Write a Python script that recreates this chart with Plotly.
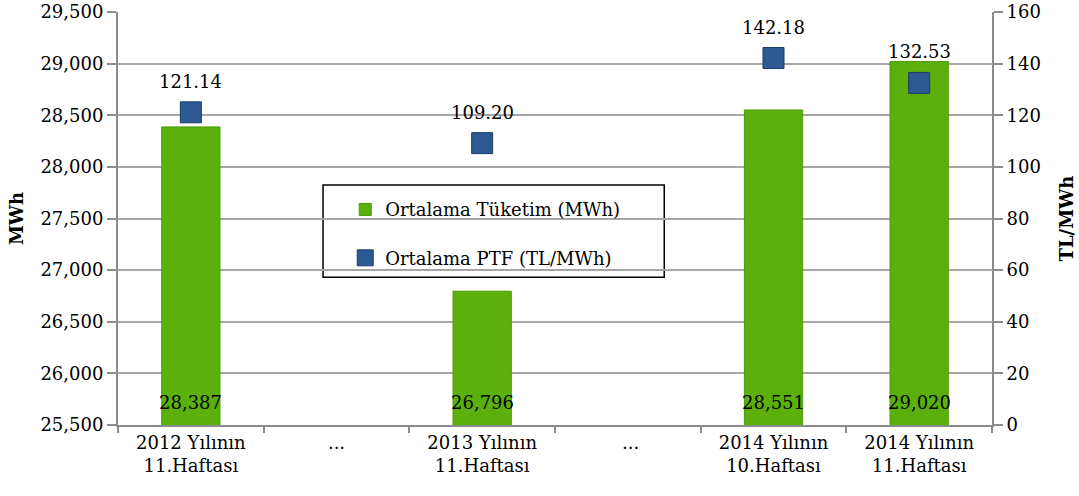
import plotly.graph_objects as go

categories = ["2012 Yılının<br>11.Haftası", "...", "2013 Yılının<br>11.Haftası", " ...",
              "2014 Yılının<br>10.Haftası", "2014 Yılının<br>11.Haftası"]
consumption = [28387, None, 26796, None, 28551, 29020]
ptf = [121.14, None, 109.20, None, 142.18, 132.53]

left_ticks = list(range(25500, 29501, 500))
right_ticks = list(range(0, 161, 20))

FONT = "DejaVu Serif"
GREEN = "#5cb00b"
BLUE = "#2d5a93"

fig = go.Figure()
fig.add_trace(go.Bar(
    x=categories, y=consumption, name="Ortalama Tüketim (MWh)",
    marker=dict(color=GREEN, line=dict(color="#4c9a08", width=1)),
    width=0.4, legendgroup="a",
))
fig.add_trace(go.Scatter(
    x=categories, y=ptf, name="Ortalama PTF (TL/MWh)", yaxis="y2",
    mode="markers",
    marker=dict(symbol="square", size=21, color=BLUE, line=dict(color="#1d3c66", width=1)),
    legendgroup="b",
))

annotations = []
for c, v in zip(categories, consumption):
    if v is not None:
        annotations.append(dict(x=c, y=left_ticks[0], xref="x", yref="y", text=f"{v:,}",
                                showarrow=False, yshift=23, yanchor="middle",
                                font=dict(family=FONT, size=18, color="black")))
for c, v in zip(categories, ptf):
    if v is not None:
        annotations.append(dict(x=c, y=v, xref="x", yref="y2", text=f"{v:.2f}",
                                showarrow=False, yshift=31, yanchor="middle",
                                font=dict(family=FONT, size=18, color="black")))

fig.update_layout(
    width=1079, height=496,
    margin=dict(l=118, r=87, t=12, b=71, autoexpand=False),
    paper_bgcolor="white", plot_bgcolor="white",
    font=dict(family=FONT, size=18, color="black"),
    annotations=annotations,
    xaxis=dict(
        type="category", automargin=False, showline=True, linecolor="#8c8c8c", linewidth=2,
        ticks="outside", tickson="boundaries", ticklen=6, tickcolor="#8c8c8c", tickwidth=2,
        showgrid=False, tickfont=dict(family=FONT, size=18),
    ),
    yaxis=dict(
        title=dict(text="<b>MWh</b>", font=dict(family=FONT, size=18), standoff=12),
        automargin=False, ticklabeloverflow="allow",
        range=[left_ticks[0], left_ticks[-1]], tickvals=left_ticks, tickformat=",d",
        showline=True, linecolor="#8c8c8c", linewidth=2,
        ticks="outside", ticklen=9, tickcolor="#8c8c8c", tickwidth=2,
        showgrid=True, gridcolor="#a6a6a6", gridwidth=1.5, zeroline=False,
        tickfont=dict(family=FONT, size=18),
    ),
    yaxis2=dict(
        title=dict(text="<b>TL/MWh</b>", font=dict(family=FONT, size=18), standoff=20),
        automargin=False, ticklabeloverflow="allow",
        overlaying="y", side="right", range=[right_ticks[0], right_ticks[-1]], tickvals=right_ticks,
        showline=True, linecolor="#8c8c8c", linewidth=2,
        ticks="outside", ticklen=9, tickcolor="#8c8c8c", tickwidth=2,
        showgrid=False, zeroline=False, tickfont=dict(family=FONT, size=18),
    ),
    legend=dict(
        x=0.26, y=0.566, xanchor="left", yanchor="top",
        bgcolor="rgba(0,0,0,0)", borderwidth=0,
        font=dict(family=FONT, size=18), traceorder="grouped", tracegroupgap=22,
    ),
    shapes=[dict(type="rect", xref="paper", yref="paper", x0=0.2346, x1=0.625, y0=0.358, y1=0.581,
                 line=dict(color="black", width=1.5), fillcolor="white", layer="between")],
)

fig.write_html("out.html", config={"displayModeBar": False},
               post_script="document.body.style.margin='0';")
